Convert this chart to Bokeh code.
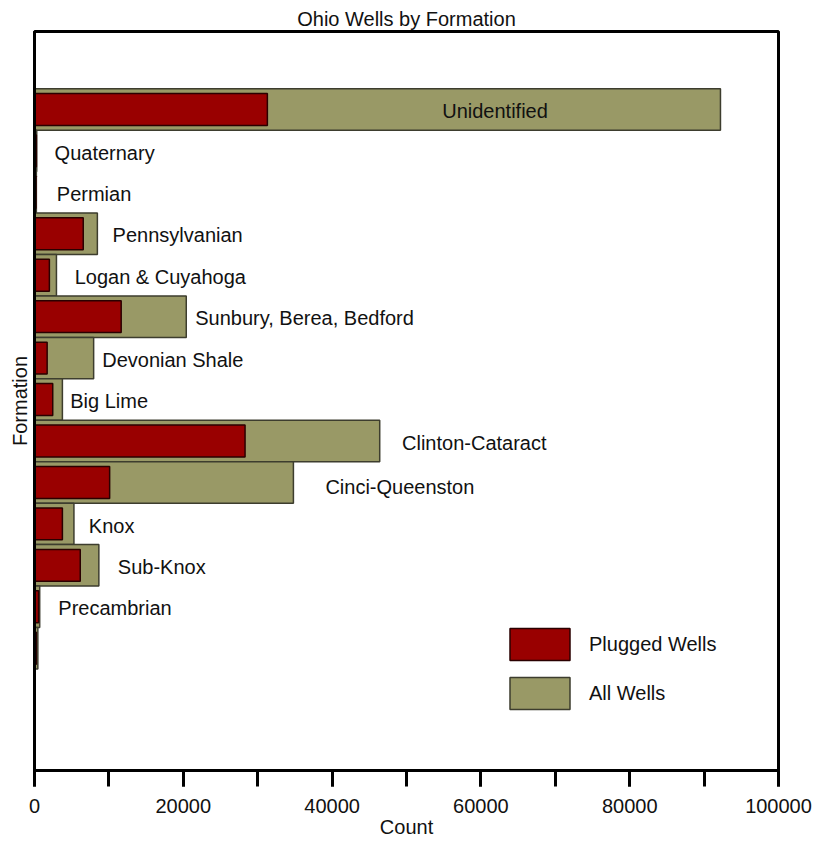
from bokeh.plotting import figure
from bokeh.models import (Range1d, SingleIntervalTicker, FixedTicker, Legend, LegendItem,
                          ColumnDataSource, BasicTickFormatter)
from bokeh.core.properties import value
from bokeh.embed import file_html
from bokeh.resources import INLINE

formations = ["Unidentified", "Quaternary", "Permian", "Pennsylvanian", "Logan & Cuyahoga",
              "Sunbury, Berea, Bedford", "Devonian Shale", "Big Lime", "Clinton-Cataract",
              "Cinci-Queenston", "Knox", "Sub-Knox", "Precambrian", ""]
all_wells = [92200, 300, 250, 8450, 2950, 20400, 7950, 3750, 46400, 34800, 5300, 8650, 700, 450]
plugged_wells = [31300, 250, 200, 6550, 2000, 11650, 1700, 2450, 28300, 10100, 3750, 6150, 550, 250]
label_x = [54800, 2700, 3000, 10500, 5400, 21600, 9100, 4800, 49400, 39100, 7300, 11200, 3200, 0]

FONT = "Liberation Sans"
RED = "#990000"
OLIVE = "#999966"
INK = "#111111"

pos = [i + 1 for i in range(len(formations))]
label_y = [p_ + (0.12 if f == "Cinci-Queenston" else 0.04) for p_, f in zip(pos, formations)]

src = ColumnDataSource(dict(y=pos, all=all_wells, plugged=plugged_wells,
                            lx=label_x, ly=label_y, name=formations))

p = figure(width=815, height=842, output_backend="svg", toolbar_location=None,
           x_range=Range1d(0, 100000), y_range=Range1d(16.95, -0.88),
           title="Ohio Wells by Formation",
           min_border_left=34, min_border_right=37, min_border_top=31, min_border_bottom=72)

p.title.align = "center"
p.title.text_font = FONT
p.title.text_font_size = "20px"
p.title.text_font_style = "normal"
p.title.text_color = INK
p.title.standoff = 4

r_all = p.hbar(y="y", right="all", left=0, height=1.0, source=src,
               fill_color=OLIVE, line_color="#3d3d2e", line_width=1.5)
r_plug = p.hbar(y="y", right="plugged", left=0, height=0.77, source=src,
                fill_color=RED, line_color="#2a0000", line_width=1.5)

p.text(x="lx", y="ly", text="name", source=src, text_font=value(FONT),
       text_font_size="20px", text_color=INK, text_align="left", text_baseline="middle")

p.xgrid.visible = False
p.ygrid.visible = False
p.outline_line_color = "black"
p.outline_line_width = 3
p.background_fill_color = "white"
p.border_fill_color = "white"

xa = p.xaxis[0]
xa.ticker = SingleIntervalTicker(interval=20000, num_minor_ticks=2)
xa.formatter = BasicTickFormatter(use_scientific=False)
xa.axis_label = "Count"
xa.axis_label_text_font = FONT
xa.axis_label_text_font_size = "20px"
xa.axis_label_text_font_style = "normal"
xa.axis_label_text_color = INK
xa.axis_label_standoff = 0
xa.major_label_text_font = FONT
xa.major_label_text_font_size = "20px"
xa.major_label_text_color = INK
xa.major_label_standoff = 12
xa.axis_line_color = "black"
xa.axis_line_width = 3
xa.major_tick_line_color = "black"
xa.major_tick_line_width = 3
xa.major_tick_out = 16
xa.major_tick_in = 0
xa.minor_tick_line_color = "black"
xa.minor_tick_line_width = 3
xa.minor_tick_out = 16
xa.minor_tick_in = 0

ya = p.yaxis[0]
ya.ticker = FixedTicker(ticks=[])
ya.axis_label = "Formation"
ya.axis_label_text_font = FONT
ya.axis_label_text_font_size = "20px"
ya.axis_label_text_font_style = "normal"
ya.axis_label_text_color = INK
ya.axis_label_standoff = 4
ya.major_tick_line_color = None
ya.minor_tick_line_color = None
ya.axis_line_color = "black"
ya.axis_line_width = 3

legend = Legend(items=[LegendItem(label="Plugged Wells", renderers=[r_plug]),
                       LegendItem(label="All Wells", renderers=[r_all])],
                location=(468, 57), glyph_width=75, glyph_height=40, spacing=9,
                label_standoff=12, label_text_font=FONT, label_text_font_size="20px",
                label_text_color=INK,
                padding=0, margin=0, border_line_color=None, background_fill_alpha=0)
p.add_layout(legend, "center")

open("out.html", "w").write(file_html(p, INLINE))
